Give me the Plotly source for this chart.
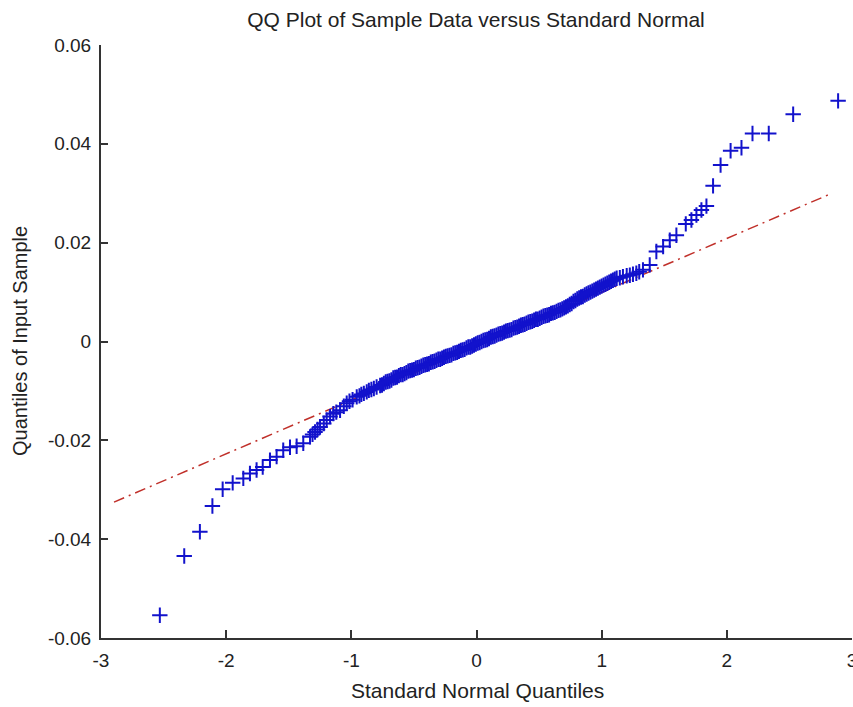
import plotly.graph_objects as go

# Standard normal quantiles (x) and sample quantiles (y)
normal_quantiles = [
    -2.53, -2.335, -2.21, -2.11, -2.028, -1.948, -1.863, -1.81, -1.757, -1.708,
    -1.65, -1.597, -1.544, -1.49, -1.437, -1.384, -1.33, -1.29, -1.25, -1.197,
    -1.144, -1.09, -1.037, -0.99, -0.957, -0.92, -0.877, -0.84, -0.798,
    -0.77, -0.74, -0.71, -0.68, -0.65, -0.62, -0.59, -0.56, -0.53, -0.50,
    -0.47, -0.44, -0.41, -0.38, -0.35, -0.32, -0.29, -0.26, -0.23, -0.20,
    -0.17, -0.14, -0.11, -0.08, -0.05, -0.02, 0.01, 0.04, 0.07, 0.10,
    0.13, 0.16, 0.19, 0.22, 0.25, 0.28, 0.31, 0.34, 0.37, 0.40,
    0.43, 0.46, 0.49, 0.52, 0.55, 0.58, 0.61, 0.64, 0.67, 0.70,
    0.73, 0.76, 0.79, 0.82, 0.85, 0.88, 0.91, 0.94, 0.97, 1.00,
    1.03, 1.06, 1.09, 1.12, 1.17, 1.225, 1.277, 1.33, 1.384, 1.437,
    1.491, 1.544, 1.597, 1.672, 1.717, 1.757, 1.797, 1.837, 1.89, 1.95,
    2.03, 2.117, 2.205, 2.335, 2.53, 2.889,
]
sample_quantiles = [
    -0.0554, -0.0434, -0.0385, -0.0333, -0.0299, -0.0286, -0.0277, -0.0267, -0.0260, -0.0254,
    -0.0240, -0.0233, -0.0220, -0.0214, -0.0212, -0.0206, -0.0193, -0.0183, -0.0173, -0.0159,
    -0.0146, -0.0139, -0.0125, -0.0118, -0.0112, -0.0107, -0.0102, -0.0097, -0.0092,
    -0.0089, -0.0085, -0.0081, -0.0078, -0.0073, -0.0069, -0.0067, -0.0063, -0.0059, -0.0057,
    -0.0053, -0.0050, -0.0047, -0.0045, -0.0041, -0.0038, -0.0036, -0.0032, -0.0029, -0.0027,
    -0.0023, -0.0020, -0.0017, -0.0013, -0.0011, -0.0007, -0.0003, 0.0000, 0.0003, 0.0006,
    0.0010, 0.0013, 0.0016, 0.0019, 0.0022, 0.0024, 0.0028, 0.0031, 0.0034, 0.0037,
    0.0040, 0.0043, 0.0045, 0.0049, 0.0052, 0.0054, 0.0058, 0.0061, 0.0064, 0.0068,
    0.0072, 0.0077, 0.0083, 0.0088, 0.0091, 0.0096, 0.0100, 0.0104, 0.0108, 0.0112,
    0.0116, 0.0120, 0.0124, 0.0128, 0.0131, 0.0134, 0.0138, 0.0145, 0.0155, 0.0182,
    0.0192, 0.0205, 0.0215, 0.0238, 0.0246, 0.0256, 0.0266, 0.0274, 0.0315, 0.0357,
    0.0386, 0.0392, 0.0421, 0.0421, 0.0460, 0.0487,
]

# Further points in the dense central band
band_normal_quantiles = [
    -1.31, -1.27, -1.22, -1.17, -1.12, -1.06, -1.015, -0.935, -0.90, -0.86, -0.82,
    -0.755, -0.725, -0.695, -0.665, -0.635, -0.605, -0.575, -0.545, -0.515, -0.485,
    -0.455, -0.425, -0.395, -0.365, -0.335, -0.305, -0.275, -0.245, -0.215, -0.185,
    -0.155, -0.125, -0.095, -0.065, -0.035, -0.005, 0.025, 0.055, 0.085, 0.115,
    0.145, 0.175, 0.205, 0.235, 0.265, 0.295, 0.325, 0.355, 0.385, 0.415,
    0.445, 0.475, 0.505, 0.535, 0.565, 0.595, 0.625, 0.655, 0.685, 0.715,
    0.745, 0.775, 0.805, 0.835, 0.865, 0.895, 0.925, 0.955, 0.985, 1.015,
    1.045, 1.075, 1.105, 1.145, 1.20, 1.25, 1.30,
]
band_sample_quantiles = [
    -0.0188, -0.0178, -0.0166, -0.0152, -0.0143, -0.0131, -0.0121, -0.0110, -0.0105, -0.0099, -0.0095,
    -0.0088, -0.0082, -0.0080, -0.0074, -0.0072, -0.0067, -0.0065, -0.0060, -0.0058, -0.0054,
    -0.0052, -0.0048, -0.0046, -0.0042, -0.0040, -0.0036, -0.0034, -0.0030, -0.0028, -0.0024,
    -0.0022, -0.0018, -0.0016, -0.0011, -0.0009, -0.0005, -0.0002, 0.0002, 0.0004, 0.0009,
    0.0011, 0.0015, 0.0017, 0.0021, 0.0023, 0.0027, 0.0029, 0.0033, 0.0035, 0.0039,
    0.0041, 0.0045, 0.0047, 0.0051, 0.0053, 0.0057, 0.0059, 0.0063, 0.0066, 0.0070,
    0.0075, 0.0081, 0.0086, 0.0090, 0.0094, 0.0098, 0.0102, 0.0106, 0.0110, 0.0114,
    0.0118, 0.0122, 0.0126, 0.0129, 0.0133, 0.0136, 0.0141,
]

# Reference line end points
ref_x = [-2.896, 2.84]
ref_y = [-0.0325, 0.0300]

x_ticks = [-3, -2, -1, 0, 1, 2, 3]
x_tick_text = ["-3", "-2", "-1", "0", "1", "2", "3"]
y_ticks = [-0.06, -0.04, -0.02, 0, 0.02, 0.04, 0.06]
y_tick_text = ["-0.06", "-0.04", "-0.02", "0", "0.02", "0.04", "0.06"]

FONT = "Liberation Sans, Arial, sans-serif"

pts = sorted(zip(normal_quantiles + band_normal_quantiles,
                 sample_quantiles + band_sample_quantiles))
all_x = [p[0] for p in pts]
all_y = [p[1] for p in pts]

fig = go.Figure()
fig.add_trace(go.Scatter(
    x=ref_x, y=ref_y, mode="lines",
    line=dict(color="#c0302a", width=1.5, dash="11px,5px,2px,5px"),
    showlegend=False, hoverinfo="skip",
))
fig.add_trace(go.Scatter(
    x=all_x, y=all_y, mode="markers",
    marker=dict(symbol="cross-thin", size=11,
                line=dict(color="#1212cc", width=2)),
    showlegend=False,
))

W, H = 853, 707
L, R, T, B = 101, 1, 45, 69
pw = W - L - R
ph = H - T - B

fig.update_layout(
    width=W, height=H,
    margin=dict(l=L, r=R, t=T, b=B, autoexpand=False),
    paper_bgcolor="white", plot_bgcolor="white",
    font=dict(family=FONT, size=18, color="#222"),
    title=dict(text="QQ Plot of Sample Data versus Standard Normal",
               x=476 / W, xanchor="center", xref="container",
               y=1 - 20 / H, yanchor="middle", yref="container",
               font=dict(family=FONT, size=21, color="#222")),
    xaxis=dict(range=[-3, 3], tickvals=x_ticks, ticktext=x_tick_text,
               automargin=False,
               showgrid=False, zeroline=False, showline=True,
               linecolor="#333", linewidth=2, mirror=False,
               ticks="inside", ticklen=8, tickwidth=2, tickcolor="#333",
               tickfont=dict(family=FONT, size=19, color="#222"),
               ticklabelstandoff=4, ticklabeloverflow="allow"),
    yaxis=dict(range=[-0.06, 0.06], tickvals=y_ticks, ticktext=y_tick_text,
               automargin=False,
               showgrid=False, zeroline=False, showline=True,
               linecolor="#333", linewidth=2, mirror=False,
               ticks="inside", ticklen=7, tickwidth=2, tickcolor="#333",
               tickfont=dict(family=FONT, size=19, color="#222"),
               ticklabelstandoff=4, ticklabeloverflow="allow"),
    annotations=[
        dict(text="Standard Normal Quantiles", xref="paper", yref="paper",
             x=(477 - L) / pw, y=-(690 - (T + ph)) / ph,
             xanchor="center", yanchor="middle", showarrow=False,
             font=dict(family=FONT, size=21, color="#222")),
        dict(text="Quantiles of Input Sample", xref="paper", yref="paper",
             x=-(L - 20) / pw, y=(H - B - 341) / ph,
             xanchor="center", yanchor="middle", showarrow=False,
             textangle=-90,
             font=dict(family=FONT, size=20, color="#222")),
    ],
)

fig.write_html("out.html")
